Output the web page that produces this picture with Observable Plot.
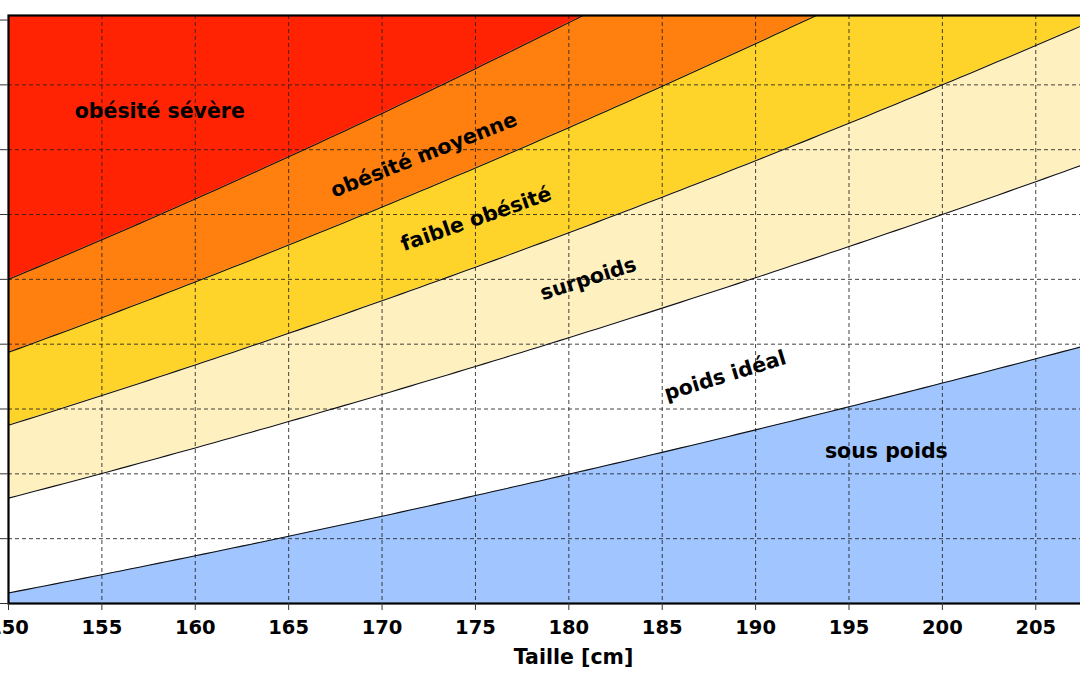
<!DOCTYPE html>
<html>
<head>
<meta charset="utf-8">
<script src="https://cdn.jsdelivr.net/npm/d3@7"></script>
<script src="https://cdn.jsdelivr.net/npm/@observablehq/plot@0.6"></script>
<style>
  html, body { margin: 0; padding: 0; background: #fff; }
  #wrap { width: 1080px; height: 675px; overflow: hidden; position: relative; }
  #wrap svg { max-width: none !important; display: block; }
</style>
</head>
<body>
<div id="wrap"></div>
<script>
// Categories (bottom to top) and their colours
const categories = ["sous poids", "poids idéal", "surpoids", "faible obésité", "obésité moyenne", "obésité sévère"];
const categoryColors = ["#A0C5FF", "#FFFFFF", "#FFF0BF", "#FFD42A", "#FF800E", "#FF2303"];
// BMI boundaries between consecutive categories
const bmiBounds = [18.5, 25, 30, 35, 40];
// Height samples (cm) used to trace the boundaries weight = BMI * h²
const heights = d3.range(150, 211, 0.5);
// Axis ticks
const xTicks = [150, 155, 160, 165, 170, 175, 180, 185, 190, 195, 200, 205];
const yTicks = [40, 50, 60, 70, 80, 90, 100, 110, 120, 130];
const xGrid = [155, 160, 165, 170, 175, 180, 185, 190, 195, 200, 205, 210];
const yGrid = [50, 60, 70, 80, 90, 100, 110, 120];
// Category label anchors (height cm, weight kg) and rotation
const labelText = ["obésité sévère", "obésité moyenne", "faible obésité", "surpoids", "poids idéal", "sous poids"];
const labelHeight = [158.1, 172.24, 175.04, 181.04, 188.37, 197.0];
const labelWeight = [115.9, 109.17, 99.31, 90.07, 75.14, 63.4];
const labelAngle = [0, -21.6, -19.2, -17.7, -17, 0];

const weight = (bmi, h) => bmi * (h / 100) * (h / 100);

const bandRows = [];
categories.forEach((cat, i) => {
  const lo = i === 0 ? 0 : bmiBounds[i - 1];
  const hi = i === bmiBounds.length ? 100 : bmiBounds[i];
  heights.forEach(h => bandRows.push({cat, h, lo: weight(lo, h), hi: weight(hi, h)}));
});
const lineRows = [];
bmiBounds.forEach(b => heights.forEach(h => lineRows.push({b, h, w: weight(b, h)})));
const labels = labelText.map((t, i) => ({t, h: labelHeight[i], w: labelWeight[i], a: labelAngle[i]}));

const chart = Plot.plot({
  width: 1138,
  height: 675,
  marginLeft: 8,
  marginRight: 0,
  marginTop: 15,
  marginBottom: 72,
  style: {fontFamily: "DejaVu Sans", background: "white"},
  x: {domain: [150, 210.5]},
  y: {domain: [40, 130.7]},
  color: {domain: categories, range: categoryColors},
  marks: [
    Plot.areaY(bandRows, {x: "h", y1: "lo", y2: "hi", z: "cat", fill: "cat", clip: true, curve: "linear"}),
    Plot.gridX(xGrid, {stroke: "#222", strokeOpacity: 0.85, strokeWidth: 1, strokeDasharray: "4,3"}),
    Plot.gridY(yGrid, {stroke: "#222", strokeOpacity: 0.85, strokeWidth: 1, strokeDasharray: "4,3"}),
    Plot.line(lineRows, {x: "h", y: "w", z: "b", stroke: "#111", strokeWidth: 1.1, clip: true}),
    Plot.frame({stroke: "#000", strokeWidth: 2.2}),
    Plot.axisY(yTicks, {tickSize: 8, tickFormat: () => "", label: null, stroke: "#333"}),
    Plot.axisX(xTicks, {tickSize: 7, tickPadding: 10, fontSize: 19.5, fontWeight: "bold", stroke: "#333", fill: "#000",
      label: null}),
    Plot.axisX({ticks: [], tickSize: 0, fontSize: 20.5, fontWeight: "bold", fill: "#000",
      label: "Taille [cm]", labelAnchor: "center", labelOffset: 60, labelArrow: "none"}),
    Plot.text(labels, {x: "h", y: "w", text: "t", rotate: "a", fontSize: 20.5, fontWeight: "bold",
      fill: "#000", textAnchor: "middle", lineAnchor: "middle"})
  ]
});
chart.style.maxWidth = "none";
document.getElementById("wrap").appendChild(chart);
</script>
</body>
</html>
